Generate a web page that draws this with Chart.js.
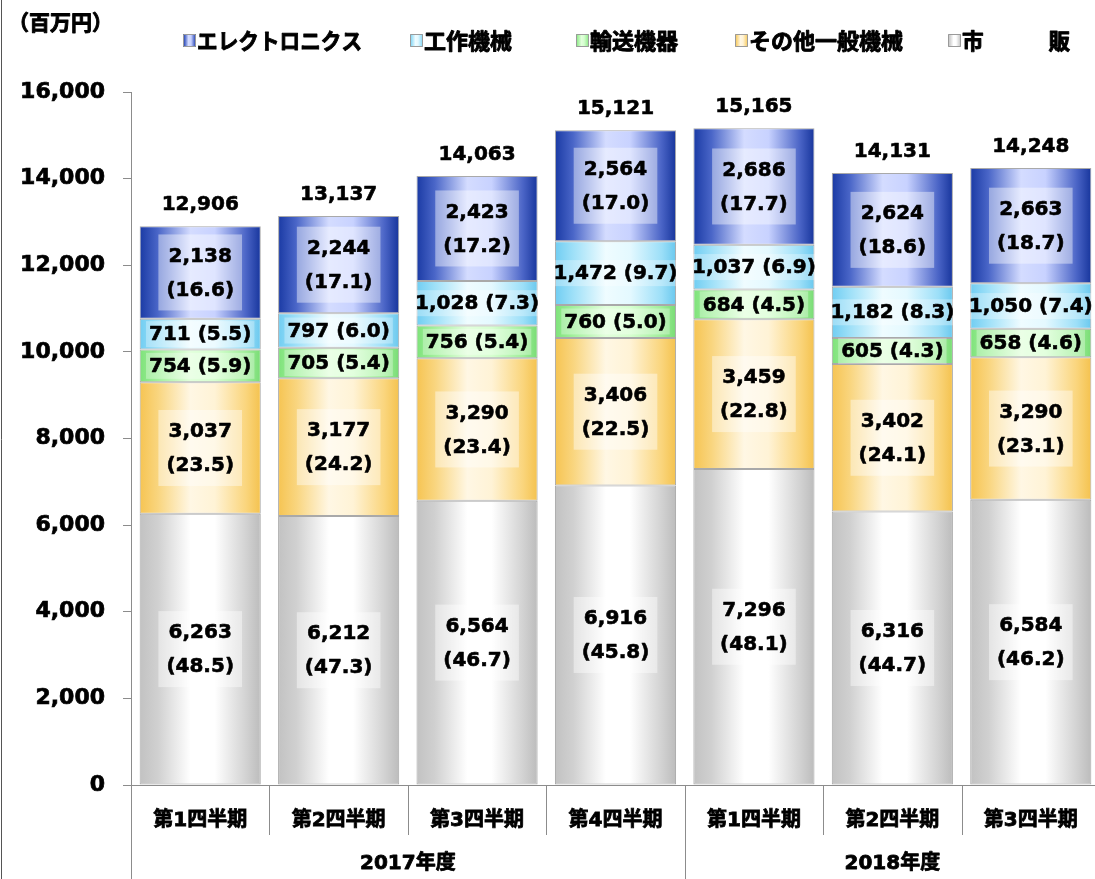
<!DOCTYPE html>
<html>
<head>
<meta charset="utf-8">
<script src="https://cdn.jsdelivr.net/npm/chart.js@4/dist/chart.umd.min.js"></script>
<style>
  html, body { margin: 0; padding: 0; background: #fff; overflow: hidden; }
  #wrap { width: 1101px; height: 879px; }
</style>
</head>
<body>
<div id="wrap"><canvas id="salesChart" width="1101" height="879"></canvas></div>
<script>
// Categories (quarters) and fiscal year groups
var quarters = ['第1四半期', '第2四半期', '第3四半期', '第4四半期', '第1四半期', '第2四半期', '第3四半期'];
var yearGroups = ['2017年度', '2018年度'];
var yearSpans = [[0, 3], [4, 6]];

// Sales (million yen), bottom of the stack first
var ichihan = [6263, 6212, 6564, 6916, 7296, 6316, 6584];
var sonota = [3037, 3177, 3290, 3406, 3459, 3402, 3290];
var yuso = [754, 705, 756, 760, 684, 605, 658];
var kosaku = [711, 797, 1028, 1472, 1037, 1182, 1050];
var electro = [2138, 2244, 2423, 2564, 2686, 2624, 2663];

// Shares (%) as printed
var ichihanPct = [48.5, 47.3, 46.7, 45.8, 48.1, 44.7, 46.2];
var sonotaPct = [23.5, 24.2, 23.4, 22.5, 22.8, 24.1, 23.1];
var yusoPct = [5.9, 5.4, 5.4, 5.0, 4.5, 4.3, 4.6];
var kosakuPct = [5.5, 6.0, 7.3, 9.7, 6.9, 8.3, 7.4];
var electroPct = [16.6, 17.1, 17.2, 17.0, 17.7, 18.6, 18.7];

// Totals as printed above each bar
var totals = [12906, 13137, 14063, 15121, 15165, 14131, 14248];

var yTicks = [0, 2000, 4000, 6000, 8000, 10000, 12000, 14000, 16000];

var NUM_FONT = '"DejaVu Sans", "Noto Sans CJK JP"';
var JP_FONT = '"Noto Sans CJK JP"';
var BAR_PCT = 0.875;

// horizontal "cylinder" gradients: [edge, mid-left, light, light, mid-right, edge]
var shades = {
    ichihan: ['#c2c2c2', '#d0d0d0', '#ffffff', '#ffffff', '#d2d2d2', '#bcbcbc'],
    sonota: ['#f6c452', '#f9d57e', '#fff7e4', '#fff3d6', '#fad57c', '#f4c24e'],
    yuso: ['#7ee27a', '#a2f09c', '#e2ffdc', '#d6ffd0', '#a0ee9a', '#78dc74'],
    kosaku: ['#70cdf2', '#9ee0f8', '#effcff', '#e4f9ff', '#9cdff8', '#6ac8ee'],
    electro: ['#1a3aa4', '#4a66c8', '#d4dcff', '#c8d2ff', '#4a64c6', '#17359c']
};
var stopPos = [0, 0.15, 0.42, 0.62, 0.88, 1];

function makeGradient(ctx, x0, x1, cols) {
    var g = ctx.createLinearGradient(x0, 0, x1, 0);
    cols.forEach(function (c, k) { g.addColorStop(stopPos[k], c); });
    return g;
}

function barFill(cols) {
    return function (c) {
        var chart = c.chart;
        var xs = chart.scales.x;
        if (!chart.chartArea || !xs) return cols[2];
        var cx = xs.getPixelForValue(c.dataIndex);
        var half = xs.width / chart.data.labels.length * BAR_PCT / 2;
        return makeGradient(chart.ctx, cx - half, cx + half, cols);
    };
}

function fmt(v) { return v.toLocaleString('en-US'); }

// heavy text: fill plus a thin stroke of the same colour
function heavyText(ctx, t, x, y, sw, maxW) {
    ctx.lineWidth = sw;
    ctx.strokeStyle = ctx.fillStyle;
    ctx.lineJoin = 'round';
    if (maxW) {
        ctx.strokeText(t, x, y, maxW);
        ctx.fillText(t, x, y, maxW);
    } else {
        ctx.strokeText(t, x, y);
        ctx.fillText(t, x, y);
    }
}

// value labels inside segments + totals on top
var labelPlugin = {
    id: 'segmentLabels',
    afterDatasetsDraw: function (chart) {
        var ctx = chart.ctx;
        ctx.save();
        ctx.font = 'bold 20px ' + NUM_FONT;
        ctx.textAlign = 'center';
        ctx.textBaseline = 'middle';
        chart.data.datasets.forEach(function (ds, di) {
            var meta = chart.getDatasetMeta(di);
            meta.data.forEach(function (bar, i) {
                var mid = (bar.y + bar.base) / 2;
                var v = fmt(ds.data[i]);
                var p = '(' + ds.shares[i].toFixed(1) + ')';
                if (ds.twoLine) {
                    var w = Math.max(ctx.measureText(v).width, ctx.measureText(p).width) + 16;
                    ctx.fillStyle = 'rgba(255,255,255,0.42)';
                    ctx.fillRect(bar.x - w / 2, mid - 38, w, 76);
                    ctx.fillStyle = '#000';
                    heavyText(ctx, v, bar.x, mid - 16, 0.6);
                    heavyText(ctx, p, bar.x, mid + 18, 0.6);
                } else {
                    var t = v + ' ' + p;
                    var w2 = ctx.measureText(t).width + 6;
                    ctx.fillStyle = 'rgba(255,255,255,0.3)';
                    ctx.fillRect(bar.x - w2 / 2, mid - 13, w2, 26);
                    ctx.fillStyle = '#000';
                    heavyText(ctx, t, bar.x, mid + 1, 0.6);
                }
            });
        });
        var top = chart.getDatasetMeta(chart.data.datasets.length - 1);
        top.data.forEach(function (bar, i) {
            ctx.fillStyle = '#000';
            heavyText(ctx, fmt(totals[i]), bar.x, bar.y - 21, 0.6);
        });
        ctx.restore();
    }
};

// frame lines, category separators, year labels, unit, legend
var decorPlugin = {
    id: 'decor',
    afterDraw: function (chart) {
        var ctx = chart.ctx;
        var xs = chart.scales.x;
        var area = chart.chartArea;
        var H = chart.height;
        ctx.save();
        ctx.strokeStyle = '#8c8c8c';
        ctx.lineWidth = 1;
        // y axis continues down through the category area
        ctx.beginPath();
        ctx.moveTo(Math.round(area.left) + 0.5, area.bottom);
        ctx.lineTo(Math.round(area.left) + 0.5, H);
        ctx.stroke();
        // separators between quarters
        for (var i = 1; i < quarters.length; i++) {
            var bx = Math.round((xs.getPixelForValue(i - 1) + xs.getPixelForValue(i)) / 2) + 0.5;
            var isGroup = (i === yearSpans[1][0]);
            ctx.beginPath();
            ctx.moveTo(bx, area.bottom);
            ctx.lineTo(bx, isGroup ? H : area.bottom + 50);
            ctx.stroke();
        }
        // outer left border
        ctx.strokeStyle = '#555';
        ctx.beginPath();
        ctx.moveTo(1.5, 0);
        ctx.lineTo(1.5, H);
        ctx.stroke();

        ctx.fillStyle = '#000';
        ctx.textBaseline = 'middle';
        ctx.textAlign = 'center';
        ctx.font = 'bold 20px ' + NUM_FONT;
        yearGroups.forEach(function (g, k) {
            var a = xs.getPixelForValue(yearSpans[k][0]);
            var b = xs.getPixelForValue(yearSpans[k][1]);
            heavyText(ctx, g, (a + b) / 2, 864, 0.8);
        });

        ctx.textAlign = 'left';
        ctx.font = 'bold 21px ' + JP_FONT;
        heavyText(ctx, '（百万円）', 8, 22, 0.9);

        // legend, reversed order (top series first)
        var legX = [183, 410, 576, 735, 948];
        var legW = [165, 98, 98, 156, 108];
        var order = chart.data.datasets.slice().reverse();
        ctx.font = 'bold 22px ' + JP_FONT;
        order.forEach(function (ds, k) {
            var mx = legX[k];
            ctx.fillStyle = makeGradient(ctx, mx, mx + 13, ds.shade);
            ctx.fillRect(mx, 34, 13, 13);
            ctx.lineWidth = 1;
            ctx.strokeStyle = '#9a9a9a';
            ctx.strokeRect(mx + 0.5, 34.5, 12, 12);
            ctx.fillStyle = '#000';
            heavyText(ctx, ds.legendText, mx + 14, 41, 0.9, legW[k]);
        });
        ctx.restore();
    }
};

function series(label, legendText, data, shares, shade, twoLine) {
    return {
        label: label,
        legendText: legendText,
        data: data,
        shares: shares,
        shade: shade,
        twoLine: twoLine,
        backgroundColor: barFill(shade),
        borderColor: 'rgba(140,140,140,0.75)',
        borderWidth: 1,
        borderSkipped: false,
        barPercentage: BAR_PCT,
        categoryPercentage: 1
    };
}

document.addEventListener('DOMContentLoaded', function () {
    var ctx = document.getElementById('salesChart').getContext('2d');
    new Chart(ctx, {
        type: 'bar',
        data: {
            labels: quarters,
            datasets: [
                series('市販', '市　　　販', ichihan, ichihanPct, shades.ichihan, true),
                series('その他一般機械', 'その他一般機械', sonota, sonotaPct, shades.sonota, true),
                series('輸送機器', '輸送機器', yuso, yusoPct, shades.yuso, false),
                series('工作機械', '工作機械', kosaku, kosakuPct, shades.kosaku, false),
                series('エレクトロニクス', 'エレクトロニクス', electro, electroPct, shades.electro, true)
            ]
        },
        options: {
            responsive: false,
            animation: false,
            layout: { padding: { top: 92, right: 1, left: 0, bottom: 0 } },
            plugins: {
                legend: { display: false },
                tooltip: { enabled: false }
            },
            scales: {
                x: {
                    stacked: true,
                    grid: { display: false },
                    border: { display: true, color: '#8c8c8c' },
                    ticks: {
                        color: '#000',
                        padding: 16,
                        maxRotation: 0,
                        autoSkip: false,
                        textStrokeColor: '#000',
                        textStrokeWidth: 0.8,
                        font: { family: NUM_FONT, size: 20, weight: 'bold' }
                    },
                    afterFit: function (s) { s.height = 94; }
                },
                y: {
                    stacked: true,
                    min: yTicks[0],
                    max: yTicks[yTicks.length - 1],
                    afterBuildTicks: function (s) {
                        s.ticks = yTicks.map(function (v) { return { value: v }; });
                    },
                    grid: { drawOnChartArea: false, drawTicks: true, tickLength: 8, color: '#8c8c8c' },
                    border: { display: true, color: '#8c8c8c' },
                    ticks: {
                        color: '#000',
                        padding: 18,
                        textStrokeColor: '#000',
                        textStrokeWidth: 0.7,
                        font: { family: NUM_FONT, size: 22, weight: 'bold' },
                        callback: function (v) { return fmt(v); }
                    },
                    afterFit: function (s) { s.width = 131; }
                }
            }
        },
        plugins: [labelPlugin, decorPlugin]
    });
});
</script>
</body>
</html>
